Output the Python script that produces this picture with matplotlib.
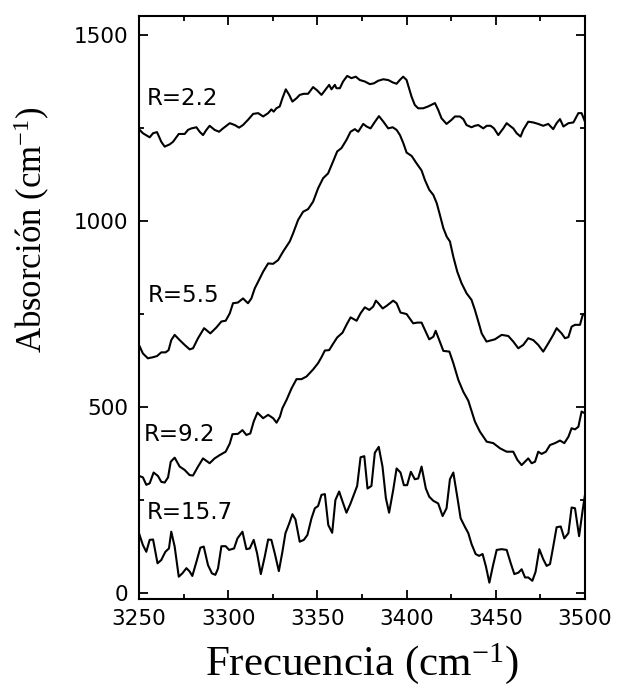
import matplotlib
matplotlib.use("Agg")
import matplotlib.pyplot as plt
from matplotlib.ticker import MultipleLocator

plt.rcParams['mathtext.default'] = 'regular'

# R = 2.2
x_r22 = [3250, 3252.2, 3256, 3257.9, 3260.1, 3262.5, 3264.4, 3267.2, 3269.1, 3272.3, 3275.6, 3277.5,
         3279.4, 3282.2, 3284, 3285.9, 3287.8, 3289.6, 3292.4, 3294.9, 3297.1, 3300.9, 3303.7, 3306.1,
         3308.3, 3311.1, 3314, 3316.8, 3319.6, 3322.4, 3324.2, 3325.5, 3327, 3328.9, 3330.4, 3332.3,
         3334.2, 3336, 3338.3, 3340.1, 3342.4, 3344.8, 3347.6, 3349.9, 3352.3, 3354.2, 3356.6, 3357.9,
         3359.8, 3360.7, 3362.6, 3364.4, 3366.7, 3369.1, 3371.5, 3373.8, 3376.6, 3379.4, 3381.6, 3384.1,
         3386.9, 3389.7, 3392.5, 3394.4, 3396.2, 3398.1, 3400, 3402.8, 3404.6, 3406.5, 3409.3, 3412.1,
         3415.9, 3417.7, 3419.6, 3422.4, 3425.2, 3427.1, 3429.9, 3431.8, 3433.6, 3436.4, 3438.3, 3440.2,
         3443, 3444.9, 3447.1, 3449, 3451.4, 3454.2, 3456.1, 3457.9, 3459.8, 3461.7, 3463.9, 3465.4,
         3468.2, 3471, 3473.8, 3476.6, 3479.4, 3482.2, 3484.1, 3486, 3487.9, 3490.7, 3493.5, 3496.3,
         3498.1, 3500]
y_r22 = [1246, 1235, 1224, 1235, 1238, 1212, 1199, 1205, 1212, 1233, 1233, 1244,
         1248, 1251, 1239, 1230, 1244, 1255, 1244, 1239, 1248, 1262, 1257, 1250,
         1257, 1271, 1287, 1289, 1280, 1289, 1299, 1293, 1302, 1307, 1329, 1353,
         1338, 1320, 1329, 1338, 1341, 1341, 1359, 1350, 1338, 1350, 1365, 1353,
         1365, 1356, 1356, 1374, 1389, 1383, 1387, 1378, 1374, 1367, 1369, 1376,
         1380, 1378, 1371, 1368, 1378, 1387, 1378, 1333, 1311, 1302, 1302, 1307,
         1316, 1298, 1275, 1260, 1271, 1280, 1280, 1273, 1257, 1251, 1255, 1257,
         1248, 1255, 1255, 1248, 1230, 1248, 1262, 1255, 1248, 1235, 1226, 1244,
         1266, 1264, 1260, 1255, 1260, 1246, 1262, 1273, 1253, 1262, 1264, 1289,
         1289, 1266]

# R = 5.5
x_r55 = [3250, 3252.2, 3255, 3257.9, 3260.1, 3262.5, 3264.9, 3266.6, 3268.1, 3270, 3272.8, 3275.6,
         3278.4, 3280.3, 3283.1, 3286.5, 3290, 3293.4, 3296.2, 3298.6, 3300.9, 3302.7, 3305.5, 3308.3,
         3311.1, 3313, 3314.9, 3316.8, 3319.6, 3322.4, 3325.2, 3328, 3330.8, 3334.5, 3336.4, 3339.2,
         3342, 3344.8, 3347.6, 3350.4, 3353.2, 3356, 3358.8, 3361.1, 3363.5, 3366.3, 3368.6, 3371,
         3372.9, 3375.7, 3377.6, 3379.8, 3382.3, 3384.5, 3387, 3389.7, 3392.2, 3394.4, 3396.3, 3398.2,
         3400, 3402.8, 3405.6, 3408.4, 3410.3, 3412.7, 3415, 3416.9, 3418.7, 3420.6, 3422.5, 3424.3,
         3426.2, 3428.4, 3430.8, 3433.6, 3436.4, 3438.3, 3440.2, 3442.1, 3444.8, 3449.5, 3453.3, 3457,
         3459.8, 3462.6, 3465.4, 3468.2, 3471, 3473.8, 3476.6, 3479.4, 3482.2, 3484.1, 3486.9, 3488.8,
         3490.7, 3492.5, 3494.4, 3497.2, 3498.7, 3500]
y_r55 = [666, 643, 630, 633, 636, 646, 646, 652, 679, 693, 679, 666,
         654, 657, 684, 711, 697, 713, 729, 731, 751, 778, 780, 791,
         778, 791, 818, 836, 863, 885, 884, 894, 917, 944, 966, 1002,
         1024, 1031, 1051, 1087, 1114, 1127, 1159, 1186, 1195, 1217, 1239, 1246,
         1239, 1260, 1253, 1248, 1266, 1281, 1266, 1248, 1251, 1244, 1230, 1208,
         1183, 1174, 1154, 1135, 1109, 1083, 1069, 1047, 1015, 980, 957, 944,
         903, 863, 832, 805, 787, 760, 729, 697, 675, 681, 693, 690,
         675, 657, 666, 684, 679, 666, 648, 670, 693, 711, 697, 684,
         687, 715, 720, 720, 746, 751]

# R = 9.2
x_r92 = [3250, 3252.2, 3254.1, 3256, 3258.2, 3260.6, 3262.5, 3264.4, 3266.3, 3267.8, 3270, 3272.8,
         3275.6, 3278.4, 3280.3, 3283.1, 3285.9, 3289.6, 3292.4, 3295.3, 3298.6, 3300.9, 3302.4, 3305.5,
         3308, 3310.2, 3312.4, 3314.3, 3316.4, 3319.6, 3322.4, 3325.2, 3327.1, 3329, 3330.4, 3332.7,
         3335.5, 3338.3, 3341.1, 3343.9, 3347.6, 3350.4, 3352.3, 3354.2, 3356.6, 3358.8, 3361.1, 3364.1,
         3366.3, 3368.6, 3372, 3374.2, 3376.6, 3379.1, 3381.3, 3382.8, 3384.2, 3386.6, 3388.8, 3392.5,
         3394.4, 3396.6, 3400, 3403.7, 3406, 3408.4, 3410.3, 3412.7, 3415, 3416.3, 3418.3, 3420.6,
         3424, 3426.2, 3429, 3431.8, 3434.6, 3438.3, 3441.1, 3444.9, 3448.6, 3452.4, 3456.1, 3459.8,
         3462.1, 3464.5, 3468.2, 3470.1, 3472, 3473.8, 3475.7, 3478.1, 3480.4, 3483.2, 3486, 3488.4,
         3490.7, 3492.5, 3494.4, 3496.3, 3498.1, 3500]
y_r92 = [314, 310, 290, 294, 323, 314, 298, 296, 310, 352, 363, 339,
         330, 316, 315, 339, 361, 348, 361, 370, 379, 401, 426, 427,
         437, 424, 428, 460, 484, 469, 478, 469, 457, 473, 496, 518,
         549, 574, 574, 581, 600, 617, 633, 651, 652, 669, 686, 699,
         720, 740, 731, 751, 767, 760, 769, 785, 778, 764, 771, 785,
         778, 753, 749, 724, 726, 726, 706, 681, 688, 704, 679, 650,
         648, 617, 572, 540, 516, 460, 433, 406, 402, 388, 379, 379,
         357, 343, 361, 348, 352, 379, 373, 379, 397, 402, 409, 402,
         419, 442, 439, 446, 487, 482]

# R = 15.7
x_r157 = [3250, 3252.2, 3254.1, 3256, 3257.9, 3260.4, 3262.5, 3264.8, 3266.8, 3268.1, 3270, 3272.3,
          3274.3, 3276.6, 3278.4, 3279.9, 3282.2, 3284.4, 3286.3, 3288.7, 3290.9, 3292.8, 3294.3, 3296.2,
          3298.6, 3300.5, 3303.3, 3305.2, 3308, 3310.2, 3312.1, 3314.3, 3316.2, 3318.3, 3320.5, 3322.4,
          3324.2, 3326.1, 3328.4, 3330.4, 3332.1, 3334.2, 3336, 3337.7, 3340.1, 3342.4, 3344.4, 3346.7,
          3348.6, 3350.4, 3352.3, 3354.2, 3356.1, 3358.3, 3360.1, 3362.2, 3364.1, 3366.3, 3368.6, 3370.4,
          3372.3, 3374.2, 3376.3, 3378.1, 3380.3, 3382.2, 3384.4, 3386.5, 3388.4, 3390.2, 3392.5, 3394.4,
          3396.6, 3398.5, 3400.3, 3402.4, 3404.6, 3406.5, 3408.4, 3410.8, 3412.7, 3415, 3417.7, 3420.2,
          3422.4, 3424.3, 3426.2, 3428.4, 3430.3, 3432.7, 3434.6, 3436.4, 3438.7, 3440.6, 3442.6, 3444.5,
          3446.4, 3448.3, 3450.5, 3453.3, 3456.1, 3458.4, 3460.4, 3462.7, 3464.5, 3466.4, 3468.2, 3470.5,
          3472.3, 3474.4, 3476.6, 3478.5, 3480.4, 3482.2, 3484.1, 3486.4, 3488.4, 3490.7, 3492.5, 3494.4,
          3496.7, 3498.7, 3500]
y_r157 = [160, 128, 110, 142, 143, 79, 88, 110, 119, 164, 124, 43,
          52, 66, 57, 45, 83, 121, 124, 74, 52, 48, 65, 125,
          125, 115, 119, 146, 164, 117, 119, 142, 106, 50, 97, 143,
          142, 106, 58, 110, 160, 186, 211, 197, 137, 142, 155, 200,
          227, 233, 263, 265, 182, 161, 249, 272, 245, 215, 240, 263,
          287, 364, 367, 280, 287, 376, 392, 339, 254, 215, 276, 334,
          323, 289, 289, 325, 305, 307, 339, 280, 258, 247, 240, 206,
          227, 305, 323, 258, 200, 177, 160, 131, 104, 99, 104, 70,
          27, 70, 115, 117, 115, 79, 50, 54, 63, 41, 41, 32,
          56, 117, 90, 72, 77, 124, 176, 178, 146, 160, 229, 227,
          152, 222, 263]

labels = ["R=2.2", "R=5.5", "R=9.2", "R=15.7"]
label_x = [3254.3, 3255, 3252.8, 3254.3]
label_y = [1327, 800, 424, 215]

fig = plt.figure(figsize=(6.21, 6.91), dpi=100)
ax = fig.add_axes([0.2238, 0.1331, 0.7182, 0.8437])

for xs, ys in [(x_r22, y_r22), (x_r55, y_r55), (x_r92, y_r92), (x_r157, y_r157)]:
    ax.plot(xs, ys, color='black', lw=1.5)

for t, lx, ly in zip(labels, label_x, label_y):
    ax.text(lx, ly, t, fontsize=16.5, family='DejaVu Sans', ha='left', va='center')

ax.set_xlim(3250, 3500)
ax.set_ylim(-17, 1550)
ax.xaxis.set_major_locator(MultipleLocator(50))
ax.xaxis.set_minor_locator(MultipleLocator(25))
ax.yaxis.set_major_locator(MultipleLocator(500))
ax.yaxis.set_minor_locator(MultipleLocator(250))
ax.tick_params(which='both', direction='in', top=True, right=True, width=1.3)
ax.tick_params(which='major', length=6.5, labelsize=15.5, pad=7)
ax.tick_params(axis='y', which='major', pad=8)
ax.tick_params(which='minor', length=3.6)
for s in ax.spines.values():
    s.set_linewidth(1.5)

ax.set_xlabel("Frecuencia (cm$^{-1}$)", family='Liberation Serif', fontsize=31)
ax.set_ylabel("Absorción (cm$^{-1}$)", family='Liberation Serif', fontsize=25)
ax.xaxis.set_label_coords(0.5, -0.072)
ax.yaxis.set_label_coords(-0.195, 0.633)

fig.savefig("out.png", dpi=100)
